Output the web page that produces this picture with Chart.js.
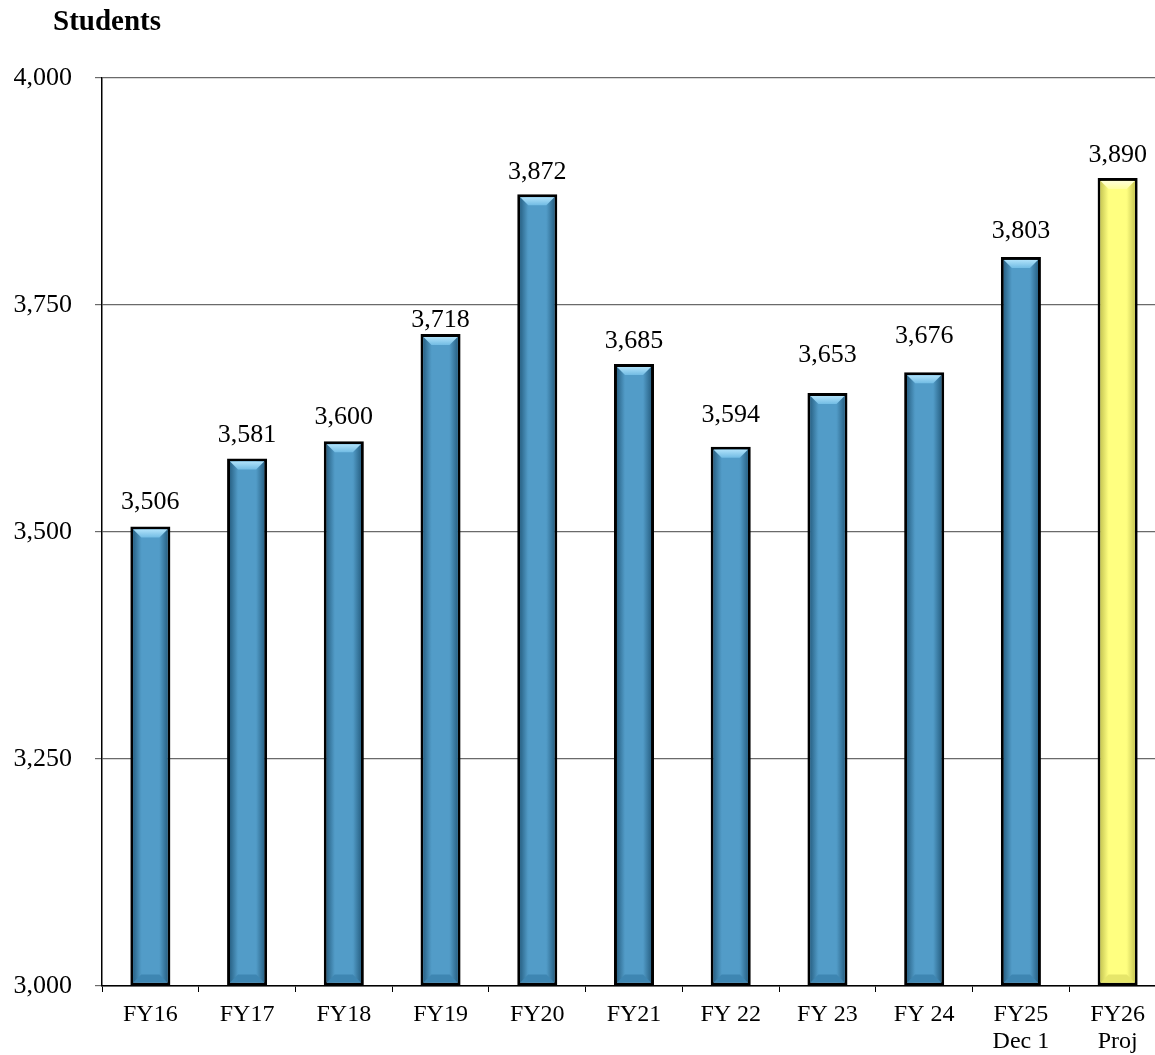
<!DOCTYPE html>
<html>
<head>
<meta charset="utf-8">
<script src="https://cdn.jsdelivr.net/npm/chart.js@4/dist/chart.umd.min.js"></script>
<style>
  html, body { margin: 0; padding: 0; background: #fff; overflow: hidden; width: 1155px; height: 1055px; }
  #wrap { position: absolute; left: 0; top: 0; width: 1170px; height: 1055px; }
  #title { position: absolute; left: 53px; top: 4px; font-family: "Liberation Serif", "Times New Roman", serif; font-weight: bold; font-size: 29px; line-height: 32px; color: #000; }
</style>
</head>
<body>
<div id="wrap">
  <canvas id="c" width="1170" height="1055"></canvas>
</div>
<div id="title">Students</div>
<script>
const categories = [['FY16'], ['FY17'], ['FY18'], ['FY19'], ['FY20'], ['FY21'], ['FY 22'], ['FY 23'], ['FY 24'], ['FY25', 'Dec 1'], ['FY26', 'Proj']];
const students = [3506, 3581, 3600, 3718, 3872, 3685, 3594, 3653, 3676, 3803, 3890];
const projected = [false, false, false, false, false, false, false, false, false, false, true];
const yTicks = [3000, 3250, 3500, 3750, 4000];

const SERIF = '"Liberation Serif", "Times New Roman", serif';
const labelOffsets = [18, 16, 17, 7, 15, 16, 25, 31, 29, 19, 16];

const palette = {
  blue: { face: '#529CC8', dark: '#2A6488', light: '#B0E2FA', mid: '#72BCE4', bottom: '#3E86B2' },
  yellow: { face: '#FFFF80', dark: '#C9C956', light: '#FFFFD8', mid: '#FFFFA0', bottom: '#E6E66A' }
};

const bevelPlugin = {
  id: 'bevel',
  afterDatasetsDraw(chart) {
    const ctx = chart.ctx;
    const meta = chart.getDatasetMeta(0);
    const area = chart.chartArea;
    meta.data.forEach((el, i) => {
      const p = el.getProps(['x', 'y', 'base', 'width'], true);
      const bw = 3;
      const l = p.x - p.width / 2 + bw, r = p.x + p.width / 2 - bw;
      const t = Math.min(p.y, p.base) + bw;
      const b = Math.min(Math.max(p.y, p.base), area.bottom) - bw;
      const c = projected[i] ? palette.yellow : palette.blue;
      const s = 8;
      ctx.save();
      const g = ctx.createLinearGradient(l, 0, r, 0);
      g.addColorStop(0, c.dark);
      g.addColorStop(0.25, c.face);
      g.addColorStop(0.75, c.face);
      g.addColorStop(1, c.dark);
      ctx.fillStyle = g;
      ctx.fillRect(l, t, r - l, b - t);
      const gl = ctx.createLinearGradient(l, 0, l + s, 0);
      gl.addColorStop(0, c.dark); gl.addColorStop(1, c.face);
      ctx.fillStyle = gl;
      ctx.beginPath(); ctx.moveTo(l, t); ctx.lineTo(l + s, t + s); ctx.lineTo(l + s, b - s); ctx.lineTo(l, b); ctx.closePath(); ctx.fill();
      const gr = ctx.createLinearGradient(r - s, 0, r, 0);
      gr.addColorStop(0, c.face); gr.addColorStop(1, c.dark);
      ctx.fillStyle = gr;
      ctx.beginPath(); ctx.moveTo(r, t); ctx.lineTo(r - s, t + s); ctx.lineTo(r - s, b - s); ctx.lineTo(r, b); ctx.closePath(); ctx.fill();
      const gt = ctx.createLinearGradient(0, t, 0, t + s);
      gt.addColorStop(0, c.light); gt.addColorStop(1, c.mid);
      ctx.fillStyle = gt;
      ctx.beginPath(); ctx.moveTo(l, t); ctx.lineTo(r, t); ctx.lineTo(r - s, t + s); ctx.lineTo(l + s, t + s); ctx.closePath(); ctx.fill();
      ctx.fillStyle = c.bottom;
      ctx.beginPath(); ctx.moveTo(l, b); ctx.lineTo(r, b); ctx.lineTo(r - s, b - s); ctx.lineTo(l + s, b - s); ctx.closePath(); ctx.fill();
      ctx.restore();
    });
  }
};

const valueLabelPlugin = {
  id: 'valueLabels',
  afterDatasetsDraw(chart) {
    const ctx = chart.ctx;
    const meta = chart.getDatasetMeta(0);
    ctx.save();
    ctx.font = '26px ' + SERIF;
    ctx.fillStyle = '#000';
    ctx.textAlign = 'center';
    ctx.textBaseline = 'alphabetic';
    meta.data.forEach((el, i) => {
      const v = chart.data.datasets[0].data[i];
      ctx.fillText(v.toLocaleString('en-US'), el.x, el.y - labelOffsets[i]);
    });
    ctx.restore();
  }
};

new Chart(document.getElementById('c'), {
  type: 'bar',
  data: {
    labels: categories,
    datasets: [{
      data: students,
      base: yTicks[0],
      backgroundColor: students.map((_, i) => projected[i] ? palette.yellow.face : palette.blue.face),
      borderColor: '#000',
      borderWidth: 3,
      borderSkipped: false,
      categoryPercentage: 1,
      barPercentage: 0.414
    }]
  },
  options: {
    responsive: false,
    devicePixelRatio: 1,
    animation: false,
    layout: { padding: { top: 78, right: 4, left: 0, bottom: 0 } },
    plugins: { legend: { display: false }, tooltip: { enabled: false }, title: { display: false } },
    scales: {
      x: {
        offset: true,
        grid: { display: true, drawOnChartArea: false, drawTicks: true, tickLength: 6, color: '#000', lineWidth: 1 },
        border: { display: true, color: '#000', width: 1.5 },
        ticks: { color: '#000', font: { family: SERIF, size: 24, lineHeight: 1.1 }, padding: 10, maxRotation: 0, autoSkip: false },
        afterFit(scale) { scale.height = 69; }
      },
      y: {
        min: 3000, max: 4000,
        afterBuildTicks(scale) { scale.ticks = yTicks.map(v => ({ value: v })); },
        grid: { color: '#6a6a6a', lineWidth: 1.2, drawTicks: true, tickLength: 7 },
        border: { display: true, color: '#000', width: 1.5 },
        ticks: { color: '#000', font: { family: SERIF, size: 26 }, padding: 23, callback: v => v.toLocaleString('en-US') },
        afterFit(scale) { scale.width = 102; }
      }
    }
  },
  plugins: [bevelPlugin, valueLabelPlugin]
});
</script>
</body>
</html>
